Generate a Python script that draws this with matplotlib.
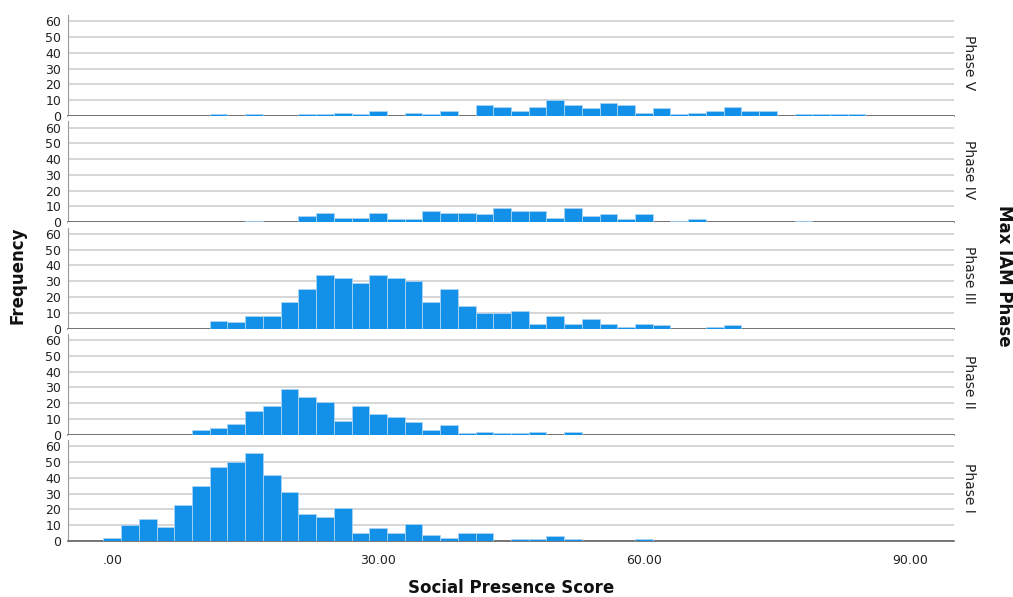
import numpy as np
import matplotlib
matplotlib.use("Agg")
import matplotlib.pyplot as plt

# histogram bins: width 2, centred on even scores 0..84
bin_centers = np.arange(0, 86, 2)

phase_names = ["Phase V", "Phase IV", "Phase III", "Phase II", "Phase I"]

counts_phase_1 = [2, 10, 14, 9, 23, 35, 47, 50, 56, 42,
                  31, 17, 15, 21, 5, 8, 5, 11, 4, 2,
                  5, 5, 0, 1, 1, 3, 1, 0, 0, 0,
                  1, 0, 0, 0, 0, 0, 0, 0, 0, 0, 0, 0, 0]
counts_phase_2 = [0, 0, 0, 0, 0, 3, 4, 7, 15, 18,
                  29, 24, 21, 9, 18, 13, 11, 8, 3, 6,
                  1, 2, 1, 1, 2, 0, 2, 0, 0, 0,
                  0, 0, 0, 0, 0, 0, 0, 0, 0, 0, 0, 0, 0]
counts_phase_3 = [0, 0, 0, 0, 0, 0, 5, 4, 8, 8,
                  17, 25, 34, 32, 29, 34, 32, 30, 17, 25,
                  14, 10, 10, 11, 3, 8, 3, 6, 3, 1,
                  3, 2, 0, 0, 1, 2, 0, 0, 0, 0, 0, 0, 0]
counts_phase_4 = [0, 0, 0, 0, 0, 0, 0, 0, 1, 0,
                  0, 4, 6, 3, 3, 6, 2, 2, 7, 6,
                  6, 5, 9, 7, 7, 3, 9, 4, 5, 2,
                  5, 0, 1, 2, 0, 0, 0, 0, 0, 1, 0, 0, 0]
counts_phase_5 = [0, 0, 0, 0, 0, 0, 1, 0, 1, 0,
                  0, 1, 1, 2, 1, 3, 0, 2, 1, 3,
                  0, 7, 6, 3, 6, 10, 7, 5, 8, 7,
                  2, 5, 1, 2, 3, 6, 3, 3, 0, 1, 1, 1, 1]

panel_counts = [counts_phase_5, counts_phase_4, counts_phase_3,
                counts_phase_2, counts_phase_1]

x_ticks = [0, 30, 60, 90]
x_tick_labels = [".00", "30.00", "60.00", "90.00"]
y_ticks = [0, 10, 20, 30, 40, 50, 60]

bar_color = "#1391e8"
W, H = 1013, 597
fig = plt.figure(figsize=(W / 100, H / 100), dpi=100)

left_px, right_px = 68, 954
top_px, bottom_px = 9.75, 541
panel_h = (bottom_px - top_px) / 5

for i, (name, counts) in enumerate(zip(phase_names, panel_counts)):
    y0 = bottom_px - (4 - i) * panel_h
    ax = fig.add_axes([left_px / W, (H - y0) / H,
                       (right_px - left_px) / W, panel_h / H])
    counts = np.array(counts)
    keep = counts > 0
    ax.bar(bin_centers[keep], counts[keep], width=2, color=bar_color,
           edgecolor="#a9d3f5", linewidth=0.6, zorder=3)
    ax.set_xlim(-5, 95)
    ax.set_ylim(0, 67.4)
    ax.set_yticks(y_ticks)
    ax.yaxis.grid(True, color="#cccccc", linewidth=1.1, zorder=0)
    ax.set_axisbelow(True)
    for s in ["top", "right"]:
        ax.spines[s].set_visible(False)
    ax.spines["left"].set_color("#9a9a9a")
    ax.spines["left"].set_bounds(0, 64)
    ax.spines["bottom"].set_color("#555555")
    ax.spines["bottom"].set_linewidth(1.1)
    ax.tick_params(axis="y", length=0, pad=5, labelsize=9, labelcolor="#222222")
    ax.set_xticks(x_ticks)
    if i == 4:
        ax.set_xticklabels(x_tick_labels)
        ax.tick_params(axis="x", length=0, pad=9, labelsize=9, labelcolor="#222222")
    else:
        ax.tick_params(axis="x", length=0, labelbottom=False)
    ax.text(1.017, 0.5, name, transform=ax.transAxes, rotation=-90,
            ha="center", va="center", fontsize=10, color="#222222")

mid_y = (H - (top_px + bottom_px) / 2) / H
fig.text(18 / W, mid_y, "Frequency", rotation=90, ha="center", va="center",
         fontsize=12, fontweight="bold", color="#111111")
fig.text(1004 / W, mid_y, "Max IAM Phase", rotation=-90, ha="center",
         va="center", fontsize=12, fontweight="bold", color="#111111")
fig.text((left_px + right_px) / 2 / W, (H - 588) / H, "Social Presence Score",
         ha="center", va="center", fontsize=12, fontweight="bold",
         color="#111111")

fig.savefig("out.png", dpi=100)
